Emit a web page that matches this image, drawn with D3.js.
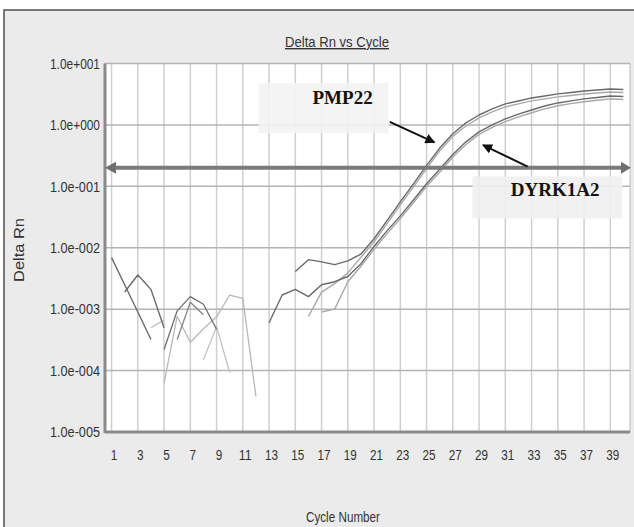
<!DOCTYPE html>
<html>
<head>
<meta charset="utf-8">
<script src="https://cdn.jsdelivr.net/npm/d3@7"></script>
<style>
body { margin: 0; background: #fff; }
text { font-family: "Liberation Sans", Arial, sans-serif; fill: #333; }
</style>
</head>
<body>
<script>
// cycle numbers and log axis ticks
var cycles = [1,2,3,4,5,6,7,8,9,10,11,12,13,14,15,16,17,18,19,20,
              21,22,23,24,25,26,27,28,29,30,31,32,33,34,35,36,37,38,39,40];
var xTicks = [1,3,5,7,9,11,13,15,17,19,21,23,25,27,29,31,33,35,37,39];
var yTicks = [10, 1, 0.1, 0.01, 0.001, 0.0001, 0.00001];
var yLabels = ["1.0e+001","1.0e+000","1.0e-001","1.0e-002","1.0e-003","1.0e-004","1.0e-005"];
var threshold = 0.2;

// Delta Rn per well (null = no point, log of a value <= 0)
var pmp22A = [6.9e-3,2.5e-3,9.0e-4,3.2e-4,null,null,null,null,null,null,
              null,null,null,null,4.1e-3,6.4e-3,5.9e-3,5.3e-3,6.1e-3,7.9e-3,
              1.4e-2,2.8e-2,5.6e-2,0.11,0.22,0.42,0.72,1.08,1.45,1.82,
              2.2,2.45,2.75,2.96,3.2,3.38,3.57,3.7,3.85,3.78];
var pmp22B = [null,null,null,null,null,null,null,null,null,null,
              null,null,null,null,null,7.6e-4,1.9e-3,2.6e-3,3.9e-3,7.0e-3,
              1.25e-2,2.5e-2,5.0e-2,0.098,0.195,0.38,0.65,0.96,1.3,1.63,
              1.96,2.2,2.46,2.65,2.86,3.02,3.19,3.31,3.44,3.38];
var dyrkA  = [null,1.9e-3,3.6e-3,2.1e-3,5.0e-4,null,null,null,null,null,
              null,null,6.0e-4,1.7e-3,2.1e-3,1.6e-3,2.5e-3,2.8e-3,3.4e-3,5.5e-3,
              1.05e-2,1.9e-2,3.3e-2,0.06,0.11,0.19,0.33,0.53,0.77,1.0,
              1.25,1.5,1.75,2.03,2.28,2.46,2.65,2.8,2.96,2.9];
var dyrkB  = [null,null,null,null,null,null,null,null,null,null,
              null,null,null,null,null,null,9.0e-4,1.0e-3,2.8e-3,5.0e-3,
              9.4e-3,1.7e-2,3.0e-2,0.054,0.1,0.17,0.3,0.48,0.7,0.91,
              1.13,1.35,1.58,1.82,2.05,2.22,2.38,2.52,2.66,2.6];
var noise1 = [null,null,null,null,2.2e-4,9.4e-4,1.6e-3,1.2e-3,4.7e-4,null,
              null,null,null,null,null,null,null,null,null,null,
              null,null,null,null,null,null,null,null,null,null,
              null,null,null,null,null,null,null,null,null,null];
var noise2 = [null,null,null,null,null,3.2e-4,1.3e-3,8.1e-4,null,null,
              null,null,null,null,null,null,null,null,null,null,
              null,null,null,null,null,null,null,null,null,null,
              null,null,null,null,null,null,null,null,null,null];
var noise3 = [null,null,null,null,6.3e-5,7.6e-4,2.9e-4,4.8e-4,7.5e-4,1.7e-3,
              1.5e-3,3.8e-5,null,null,null,null,null,null,null,null,
              null,null,null,null,null,null,null,null,null,null,
              null,null,null,null,null,null,null,null,null,null];
var noise4 = [null,null,null,5.0e-4,6.7e-4,null,null,1.5e-4,5.2e-4,9.3e-5,
              null,null,null,null,null,null,null,null,null,null,
              null,null,null,null,null,null,null,null,null,null,
              null,null,null,null,null,null,null,null,null,null];

var width = 634, height = 527;
var plotLeft = 105, plotRight = 630, plotTop = 63.5, plotBottom = 432;

var svg = d3.select("body").append("svg")
    .attr("width", width)
    .attr("height", height);

var x = d3.scaleLinear().domain([0.5, 40.5]).range([plotLeft, plotRight]);
var y = d3.scaleLog().domain([1e-5, 10]).range([plotBottom, plotTop]);

// squeeze a text into a narrow width (the original uses a condensed face)
function narrow(sel, len) {
    sel.attr("textLength", len).attr("lengthAdjust", "spacingAndGlyphs");
}

// outer frame
svg.append("rect")
    .attr("x", 4).attr("y", 10)
    .attr("width", 640).attr("height", 540)
    .attr("fill", "#ebebeb")
    .attr("stroke", "#505050")
    .attr("stroke-width", 1.5);

// plot area
svg.append("rect")
    .attr("x", plotLeft).attr("y", plotTop)
    .attr("width", plotRight - plotLeft).attr("height", plotBottom - plotTop)
    .attr("fill", "#fff")
    .attr("stroke", "#bbb");

// grid
svg.append("g").selectAll("line")
    .data(xTicks).enter().append("line")
    .attr("x1", function(d) { return x(d); })
    .attr("x2", function(d) { return x(d); })
    .attr("y1", plotTop).attr("y2", plotBottom)
    .attr("stroke", "#cfcfcf")
    .attr("stroke-width", 1.5);

svg.append("g").selectAll("line")
    .data(yTicks).enter().append("line")
    .attr("x1", plotLeft).attr("x2", plotRight)
    .attr("y1", function(d) { return y(d); })
    .attr("y2", function(d) { return y(d); })
    .attr("stroke", "#b4b4b4")
    .attr("stroke-width", 1.5);

// label boxes (drawn under the curves)
svg.append("rect")
    .attr("x", x(12.2)).attr("y", y(4.8))
    .attr("width", x(22.1) - x(12.2)).attr("height", y(0.74) - y(4.8))
    .attr("fill", "#f3f3f3").attr("opacity", 0.9);
svg.append("rect")
    .attr("x", x(28.5)).attr("y", y(0.145))
    .attr("width", x(39.9) - x(28.5)).attr("height", y(0.03) - y(0.145))
    .attr("fill", "#efefef").attr("opacity", 0.9);

// axis frame lines
svg.append("line")
    .attr("x1", plotLeft).attr("x2", plotLeft).attr("y1", plotTop).attr("y2", plotBottom + 1)
    .attr("stroke", "#8a8a8a").attr("stroke-width", 3);
svg.append("line")
    .attr("x1", plotLeft).attr("x2", plotRight).attr("y1", plotBottom).attr("y2", plotBottom)
    .attr("stroke", "#8a8a8a").attr("stroke-width", 3);

// tick labels
var yAxis = svg.append("g")
    .attr("transform", "translate(" + (plotLeft - 5) + ",0)")
    .call(d3.axisLeft(y).tickValues(yTicks)
        .tickFormat(function(d, i) { return yLabels[i]; })
        .tickSize(0).tickPadding(0));
yAxis.select(".domain").remove();
yAxis.selectAll("text")
    .style("font-family", "'Liberation Sans', Arial, sans-serif")
    .style("font-size", "15px")
    .style("fill", "#333")
    .call(narrow, 50);

var xAxis = svg.append("g")
    .attr("transform", "translate(2," + plotBottom + ")")
    .call(d3.axisBottom(x).tickValues(xTicks).tickSize(0).tickPadding(17));
xAxis.select(".domain").remove();
xAxis.selectAll("text")
    .style("font-family", "'Liberation Sans', Arial, sans-serif")
    .style("font-size", "15px")
    .style("fill", "#333")
    .each(function(d) { d3.select(this).call(narrow, String(d).length * 6.5); });

// titles
svg.append("text")
    .attr("x", 337).attr("y", 47)
    .attr("text-anchor", "middle")
    .style("font-size", "14px")
    .style("text-decoration", "underline")
    .call(narrow, 104)
    .text("Delta Rn vs Cycle");

svg.append("text")
    .attr("x", 343).attr("y", 522)
    .attr("text-anchor", "middle")
    .style("font-size", "15px")
    .call(narrow, 74)
    .text("Cycle Number");

svg.append("text")
    .attr("transform", "translate(24,250) rotate(-90)")
    .attr("text-anchor", "middle")
    .style("font-size", "15px")
    .call(narrow, 64)
    .text("Delta Rn");

// curves
var line = d3.line()
    .defined(function(d) { return d != null; })
    .x(function(d, i) { return x(cycles[i]); })
    .y(function(d) { return y(d); });

var wells = [
    {v: noise4, c: "#c4c4c4", w: 1.3},
    {v: noise3, c: "#b8b8b8", w: 1.3},
    {v: noise2, c: "#858585", w: 1.3},
    {v: noise1, c: "#6e6e6e", w: 1.3},
    {v: dyrkB,  c: "#a9a9a9", w: 1.4},
    {v: pmp22B, c: "#a9a9a9", w: 1.4},
    {v: dyrkA,  c: "#6a6a6a", w: 1.4},
    {v: pmp22A, c: "#6a6a6a", w: 1.4}
];

svg.append("g").selectAll("path")
    .data(wells).enter().append("path")
    .attr("d", function(d) { return line(d.v); })
    .attr("fill", "none")
    .attr("stroke", function(d) { return d.c; })
    .attr("stroke-width", function(d) { return d.w; })
    .attr("stroke-linejoin", "round");

// threshold with arrowheads at both ends
var ty = y(threshold);
svg.append("line")
    .attr("x1", plotLeft + 8).attr("x2", plotRight - 6)
    .attr("y1", ty).attr("y2", ty)
    .attr("stroke", "#7a7a7a").attr("stroke-width", 4);
svg.append("path")
    .attr("d", "M" + plotLeft + "," + ty + "l11,-6l0,12z")
    .attr("fill", "#6f6f6f");
svg.append("path")
    .attr("d", "M" + (plotRight + 1) + "," + ty + "l-10,-6l0,12z")
    .attr("fill", "#6f6f6f");

// annotations
svg.append("defs").append("marker")
    .attr("id", "head")
    .attr("viewBox", "0 0 10 10")
    .attr("refX", 9).attr("refY", 5)
    .attr("markerWidth", 5).attr("markerHeight", 5)
    .attr("orient", "auto")
    .append("path").attr("d", "M0,0L10,5L0,10z").attr("fill", "#111");

svg.append("line")
    .attr("x1", x(22.2)).attr("y1", y(1.12))
    .attr("x2", x(25.6)).attr("y2", y(0.52))
    .attr("stroke", "#111").attr("stroke-width", 2)
    .attr("marker-end", "url(#head)");
svg.append("line")
    .attr("x1", x(32.7)).attr("y1", y(0.21))
    .attr("x2", x(29.3)).attr("y2", y(0.47))
    .attr("stroke", "#111").attr("stroke-width", 2)
    .attr("marker-end", "url(#head)");

svg.append("text")
    .attr("x", x(18.6)).attr("y", y(2.84))
    .attr("dy", "0.35em")
    .attr("text-anchor", "middle")
    .style("font-family", "'Liberation Serif', 'Times New Roman', serif")
    .style("font-weight", "bold")
    .style("font-size", "19px")
    .style("fill", "#111")
    .text("PMP22");

svg.append("text")
    .attr("x", x(34.8)).attr("y", y(0.088))
    .attr("dy", "0.35em")
    .attr("text-anchor", "middle")
    .style("font-family", "'Liberation Serif', 'Times New Roman', serif")
    .style("font-weight", "bold")
    .style("font-size", "19px")
    .style("fill", "#111")
    .text("DYRK1A2");
</script>
</body>
</html>
